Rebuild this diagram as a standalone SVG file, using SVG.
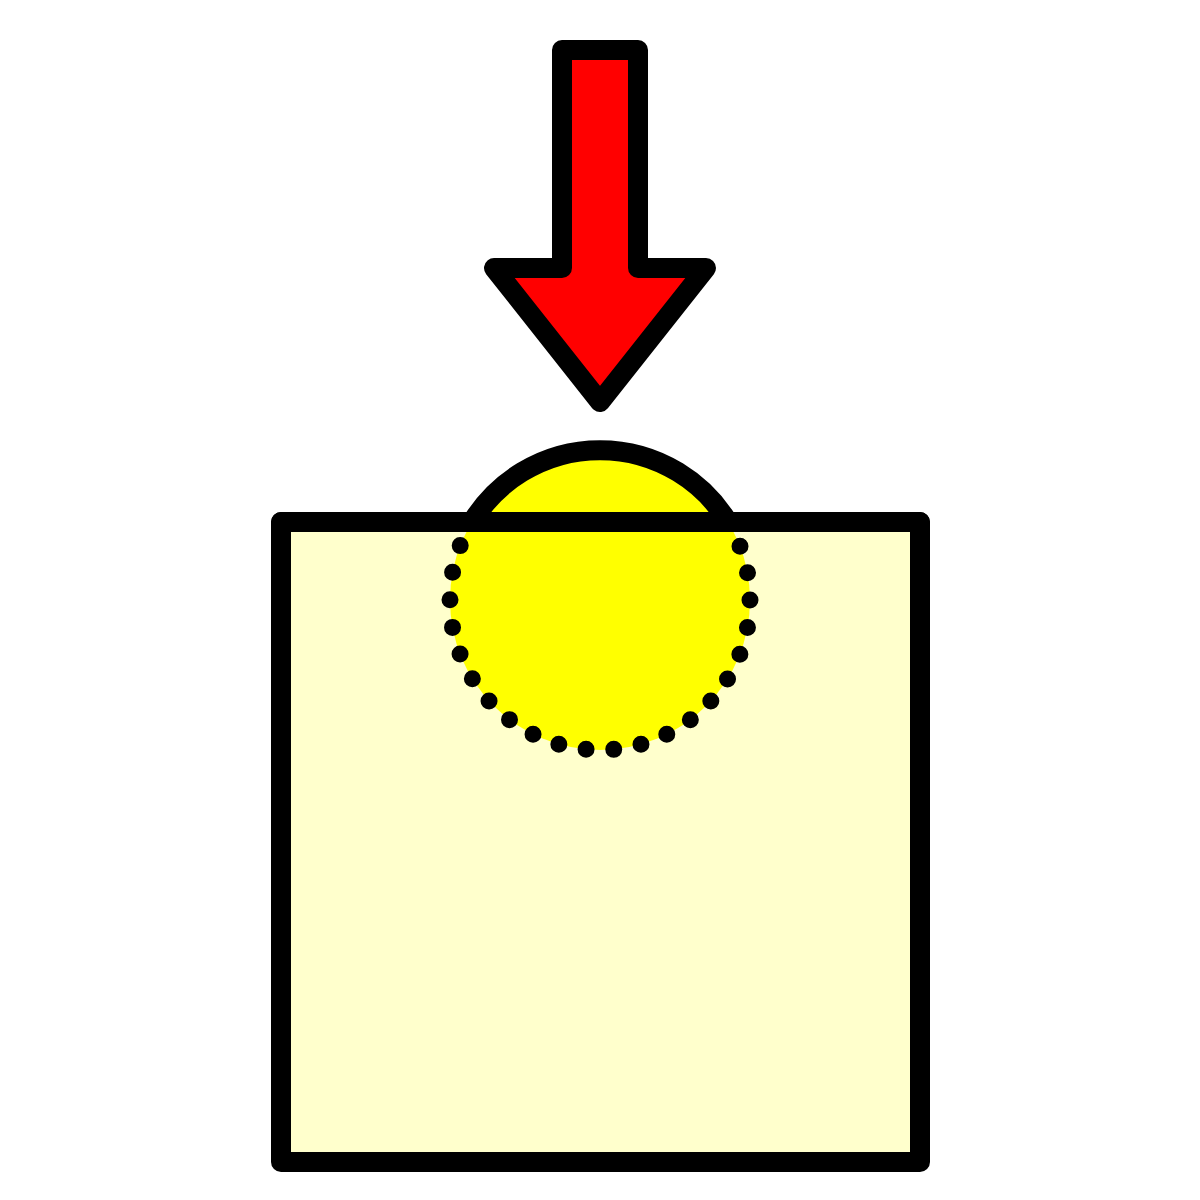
<svg xmlns="http://www.w3.org/2000/svg" width="1200" height="1200" viewBox="0 0 1200 1200">
  <defs>
    <style>
      .ln { stroke: #000; stroke-width: 20; stroke-linejoin: round; stroke-linecap: round; }
    </style>
  </defs>
  <rect width="1200" height="1200" fill="#fff"/>
  <g id="box">
    <rect x="281" y="522" width="639" height="640" fill="#FFFFCC" class="ln"/>
  </g>
  <g id="ball">
    <circle cx="600" cy="600" r="150" fill="#FFFF00"/>
    <circle cx="600" cy="600" r="150" fill="none" stroke="#000" stroke-width="17" stroke-linecap="round" stroke-dasharray="0 27.72"/>
    <path d="M472,522 A150,150 0 0 1 728,522" fill="none" class="ln"/>
    <line x1="281" y1="522" x2="920" y2="522" class="ln"/>
  </g>
  <g id="arrow">
    <path d="M562,50 L638,50 L638,268 L706,268 L600,402 L494,268 L562,268 Z" fill="#FF0000" class="ln"/>
  </g>
  <g id="connectors"></g>
</svg>
